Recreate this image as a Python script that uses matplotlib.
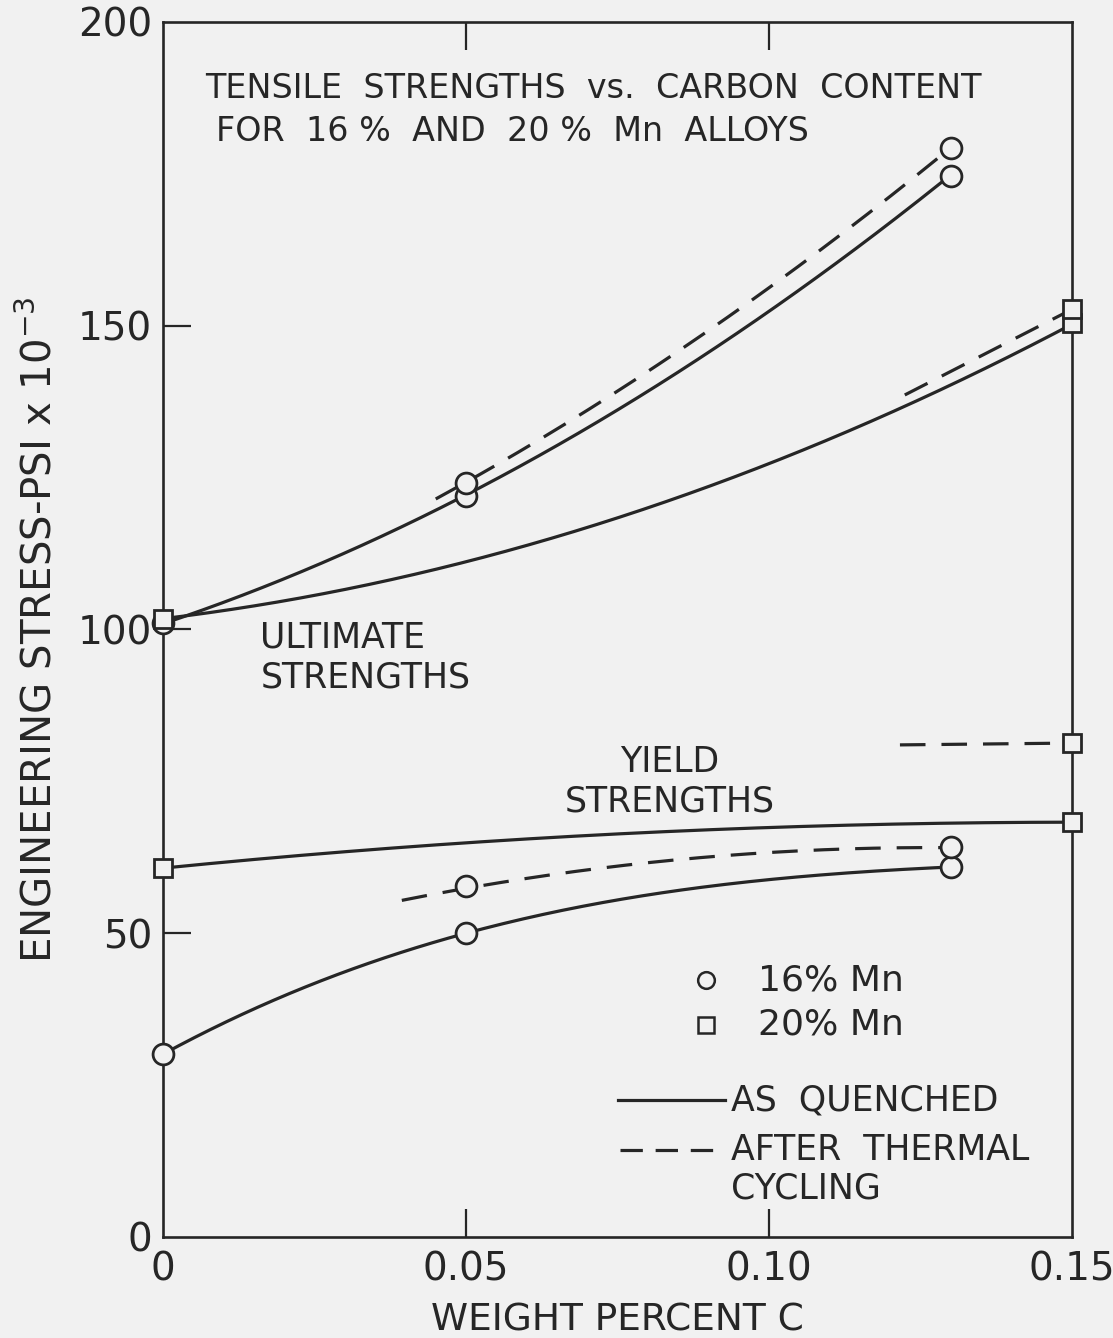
import numpy as np
import matplotlib
matplotlib.use("Agg")
import matplotlib.pyplot as plt
from matplotlib.lines import Line2D

plt.rcParams['font.family'] = ['DejaVu Sans']
plt.rcParams['mathtext.default'] = 'regular'

INK = '#262626'
PAPER = '#f1f1f1'

# Measured points (weight percent C, stress in ksi)
ult16_q_x = [0.0, 0.05, 0.13]
ult16_q_y = [101.0, 122.0, 174.7]
ult16_c_x = [0.05, 0.13]
ult16_c_y = [124.1, 179.3]
ult20_q_x = [0.0, 0.15]
ult20_q_y = [101.8, 150.4]
ult20_c_x = [0.15]
ult20_c_y = [152.7]
yld16_q_x = [0.0, 0.05, 0.13]
yld16_q_y = [30.1, 50.0, 60.9]
yld16_c_x = [0.05, 0.13]
yld16_c_y = [57.8, 64.2]
yld20_q_x = [0.0, 0.15]
yld20_q_y = [60.7, 68.3]
yld20_c_x = [0.15]
yld20_c_y = [81.3]

# Points along the hand-drawn trend curves
crv_ult16_q_x = [0.0, 0.05, 0.1051, 0.13]
crv_ult16_q_y = [101.0, 122.0, 156.2, 174.7]
crv_ult16_c_x = [0.045, 0.05, 0.1051, 0.13]
crv_ult16_c_y = [121.6, 124.1, 160.0, 179.3]
crv_ult20_q_x = [0.0, 0.05, 0.0688, 0.1254, 0.15]
crv_ult20_q_y = [101.8, 110.8, 116.9, 137.8, 150.4]
crv_ult20_c_x = [0.1224, 0.15]
crv_ult20_c_y = [138.6, 152.7]
crv_yld16_q_x = [0.0, 0.05, 0.1051, 0.13]
crv_yld16_q_y = [30.1, 50.0, 59.3, 60.9]
crv_yld16_c_x = [0.0394, 0.05, 0.1063, 0.13]
crv_yld16_c_y = [55.1, 57.8, 63.4, 64.2]
crv_yld20_q_x = [0.0, 0.0556, 0.1051, 0.15]
crv_yld20_q_y = [60.7, 65.3, 67.5, 68.3]
crv_yld20_c_x = [0.1216, 0.15]
crv_yld20_c_y = [81.0, 81.3]

x_ticks = [0.0, 0.05, 0.10, 0.15]
x_tick_labels = ['0', '0.05', '0.10', '0.15']
y_ticks = [0, 50, 100, 150, 200]
y_tick_labels = ['0', '50', '100', '150', '200']

LW = 2.3
DASH = (0, (8, 5))
FS = 25

fig = plt.figure(figsize=(11.13, 13.38), dpi=100, facecolor=PAPER)
ax = fig.add_axes([0.1465, 0.0755, 0.8167, 0.9081])
ax.set_facecolor(PAPER)
ax.set_xlim(0, 0.15)
ax.set_ylim(0, 200)


def trend(xs, ys, style, deg=2):
    deg = min(deg, len(xs) - 1)
    coef = np.polyfit(xs, ys, deg)
    xx = np.linspace(min(xs), max(xs), 200)
    ax.plot(xx, np.polyval(coef, xx), color=INK, lw=LW, ls=style,
            zorder=2, clip_on=False, solid_capstyle='butt')


trend(crv_ult16_q_x, crv_ult16_q_y, '-')
trend(crv_ult16_c_x, crv_ult16_c_y, DASH)
trend(crv_ult20_q_x, crv_ult20_q_y, '-')
trend(crv_ult20_c_x, crv_ult20_c_y, DASH)
trend(crv_yld16_q_x, crv_yld16_q_y, '-', deg=3)
trend(crv_yld16_c_x, crv_yld16_c_y, DASH)
trend(crv_yld20_q_x, crv_yld20_q_y, '-')
trend(crv_yld20_c_x, crv_yld20_c_y, DASH)


def marks(xs, ys, shape, size):
    ax.plot(xs, ys, ls='none', marker=shape, ms=size, mfc=PAPER, mec=INK,
            mew=2.0, zorder=4, clip_on=False)


for xs, ys in [(ult16_q_x, ult16_q_y), (ult16_c_x, ult16_c_y),
               (yld16_q_x, yld16_q_y), (yld16_c_x, yld16_c_y)]:
    marks(xs, ys, 'o', 15)
for xs, ys in [(ult20_q_x, ult20_q_y), (ult20_c_x, ult20_c_y),
               (yld20_q_x, yld20_q_y), (yld20_c_x, yld20_c_y)]:
    marks(xs, ys, 's', 13)

# Frame and ticks
for sp in ax.spines.values():
    sp.set_linewidth(1.9)
    sp.set_color(INK)
    sp.set_zorder(3)
ax.set_xticks(x_ticks)
ax.set_xticklabels(x_tick_labels, fontsize=28, color=INK)
ax.set_yticks(y_ticks)
ax.set_yticklabels(y_tick_labels, fontsize=28, color=INK)
ax.tick_params(axis='both', direction='in', length=20, width=1.6, color=INK,
               top=True, right=False)
ax.tick_params(axis='x', pad=10)
ax.tick_params(axis='y', pad=8)
for t in ax.xaxis.get_major_ticks():
    if t.get_loc() in (0.0, 0.15):
        t.tick1line.set_visible(False)
        t.tick2line.set_visible(False)
for t in ax.yaxis.get_major_ticks():
    if t.get_loc() in (0, 200):
        t.tick1line.set_visible(False)

ax.set_xlabel('WEIGHT PERCENT C', fontsize=27, color=INK, labelpad=10)
ax.set_ylabel('ENGINEERING STRESS-PSI x 10$^{-3}$', fontsize=29, color=INK,
              labelpad=12)

# Annotations
T = ax.transAxes
ax.text(0.046, 0.945, 'TENSILE  STRENGTHS  vs.  CARBON  CONTENT', transform=T,
        fontsize=24, color=INK, va='center', ha='left')
ax.text(0.058, 0.910, 'FOR  16 %  AND  20 %  Mn  ALLOYS', transform=T,
        fontsize=24, color=INK, va='center', ha='left')
ax.text(0.107, 0.477, 'ULTIMATE\nSTRENGTHS', transform=T, fontsize=FS,
        color=INK, ha='left', va='center', linespacing=1.25)
ax.text(0.557, 0.375, 'YIELD\nSTRENGTHS', transform=T, fontsize=FS,
        color=INK, ha='center', va='center', linespacing=1.2)

# Key
ax.add_line(Line2D([0.597], [0.2115], transform=T, marker='o', ms=12,
                   mfc=PAPER, mec=INK, mew=1.8, ls='none'))
ax.text(0.655, 0.2115, '16% Mn', transform=T, fontsize=FS + 1, color=INK,
        va='center')
ax.add_line(Line2D([0.597], [0.1745], transform=T, marker='s', ms=11,
                   mfc=PAPER, mec=INK, mew=1.8, ls='none'))
ax.text(0.655, 0.1745, '20% Mn', transform=T, fontsize=FS + 1, color=INK,
        va='center')
ax.add_line(Line2D([0.500, 0.618], [0.1125, 0.1125], transform=T,
                   color=INK, lw=LW))
ax.text(0.625, 0.1125, 'AS  QUENCHED', transform=T, fontsize=FS, color=INK,
        va='center')
ax.add_line(Line2D([0.503, 0.608], [0.0715, 0.0715], transform=T,
                   color=INK, lw=LW, ls=(0, (7, 4))))
ax.text(0.625, 0.0715, 'AFTER  THERMAL', transform=T, fontsize=FS, color=INK,
        va='center')
ax.text(0.625, 0.040, 'CYCLING', transform=T, fontsize=FS, color=INK,
        va='center')

fig.savefig('out.png', dpi=100, facecolor=PAPER)
